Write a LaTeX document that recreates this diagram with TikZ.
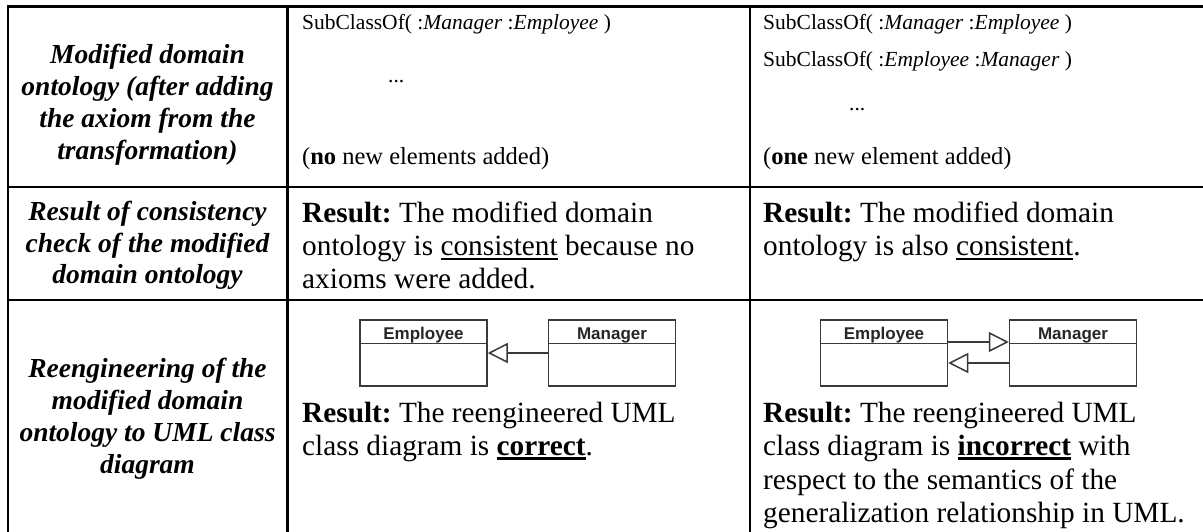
\documentclass[tikz,border=0pt]{standalone}
\usepackage{fontspec}
\setmainfont{Liberation Serif}
\newfontfamily\umlfont{Liberation Sans}
\usetikzlibrary{arrows.meta,calc}
\frenchspacing

\definecolor{umlline}{HTML}{3A3A3A}
\definecolor{umltext}{HTML}{262626}

% underline with a rule of given thickness a fixed distance below the baseline
\newcommand\uln[2][2]{\setbox0=\hbox{#2}\rlap{\rule[-4.5pt]{\wd0}{#1pt}}\box0\relax}

\begin{document}
\begin{tikzpicture}[x=1pt,y=-1pt,
  grid/.style={line width=2.6pt, line cap=rect},
  head/.style={anchor=base, inner sep=0, font=\fontsize{27.5}{32}\selectfont\bfseries\itshape},
  body/.style={anchor=base west, inner sep=0, font=\fontsize{29.3}{34}\selectfont},
  axiom/.style={anchor=base west, inner sep=0, font=\fontsize{21.5}{26}\selectfont},
  note/.style={anchor=base west, inner sep=0, font=\fontsize{24.5}{29}\selectfont},
  umlbox/.style={draw=umlline, line width=1.5pt, minimum width=127pt, minimum height=66pt, inner sep=0},
  umlname/.style={anchor=base, inner sep=0, text=umltext, font=\fontsize{17}{20}\selectfont\umlfont\bfseries},
  gen/.style={draw=umlline, line width=1.5pt, -{Triangle[open,length=20pt,width=20pt]}}]

\useasboundingbox (0,0) rectangle (1203,531);

% table rules (the table runs on past the right and bottom edges)
\draw[grid] (8,6.5) -- (1203,6.5);
\draw[grid] (8,187) -- (1203,187);
\draw[grid] (8,300) -- (1203,300);
\draw[grid] (8,6.5) -- (8,531);
\draw[grid] (287.5,6.5) -- (287.5,531);
\draw[grid] (750,6.5) -- (750,531);

% ---- row 1: modified domain ontology
\node[head] (h1a) at (147.5,63)  {Modified domain};
\node[head] (h1b) at (147.5,95)  {ontology (after adding};
\node[head] (h1c) at (147.5,127) {the axiom from the};
\node[head] (h1d) at (147.5,159) {transformation)};

\node[axiom] (a1)  at (302,29)  {SubClassOf( :\textit{Manager} :\textit{Employee} )};
\node[axiom] (d1)  at (388,82)  {...};
\node[note]  (n1)  at (302,164) {(\textbf{no} new elements added)};

\node[axiom] (a2)  at (763,29)  {SubClassOf( :\textit{Manager} :\textit{Employee} )};
\node[axiom] (a3)  at (763,66)  {SubClassOf( :\textit{Employee} :\textit{Manager} )};
\node[axiom] (d2)  at (849,110) {...};
\node[note]  (n2)  at (763,164) {(\textbf{one} new element added)};

% ---- row 2: consistency check
\node[head] (h2a) at (147.5,220) {Result of consistency};
\node[head] (h2b) at (147.5,252) {check of the modified};
\node[head] (h2c) at (147.5,283) {domain ontology};

\node[body] (r2a) at (302,222) {\textbf{Result:} The modified domain};
\node[body] (r2b) at (302,255) {ontology is \uln{consistent} because no};
\node[body] (r2c) at (302,288) {axioms were added.};

\node[body] (r3a) at (763,222) {\textbf{Result:} The modified domain};
\node[body] (r3b) at (763,255) {ontology is also \uln{consistent}.};

% ---- row 3: reengineering to UML
\node[head] (h3a) at (147.5,377) {Reengineering of the};
\node[head] (h3b) at (147.5,409) {modified domain};
\node[head] (h3c) at (147.5,441) {ontology to UML class};
\node[head] (h3d) at (147.5,473) {diagram};

% class diagram: Manager specialises Employee
\node[umlbox] (emp1) at (423.5,353) {};
\node[umlbox] (man1) at (612,353) {};
\draw[umlline, line width=1.5pt] ($(emp1.north west)+(0,24)$) -- ($(emp1.north east)+(0,24)$);
\draw[umlline, line width=1.5pt] ($(man1.north west)+(0,24)$) -- ($(man1.north east)+(0,24)$);
\node[umlname] (emp1n) at (423.5,339) {Employee};
\node[umlname] (man1n) at (612,339) {Manager};
\draw[gen] (man1.west) -- (emp1.east);

\node[body] (r4a) at (302,422) {\textbf{Result:} The reengineered UML};
\node[body] (r4b) at (302,455) {class diagram is \uln[2.6]{\textbf{correct}}.};

% class diagram: each class specialises the other
\node[umlbox] (emp2) at (884,353) {};
\node[umlbox] (man2) at (1073,353) {};
\draw[umlline, line width=1.5pt] ($(emp2.north west)+(0,24)$) -- ($(emp2.north east)+(0,24)$);
\draw[umlline, line width=1.5pt] ($(man2.north west)+(0,24)$) -- ($(man2.north east)+(0,24)$);
\node[umlname] (emp2n) at (884,339) {Employee};
\node[umlname] (man2n) at (1073,339) {Manager};
\draw[gen] ($(emp2.east)+(0,-11)$) -- ($(man2.west)+(0,-11)$);
\draw[gen] ($(man2.west)+(0,10)$) -- ($(emp2.east)+(0,10)$);

\node[body] (r5a) at (763,422) {\textbf{Result:} The reengineered UML};
\node[body] (r5b) at (763,455) {class diagram is \uln[2.6]{\textbf{incorrect}} with};
\node[body] (r5c) at (763,489) {respect to the semantics of the};
\node[body] (r5d) at (763,522) {generalization relationship in UML.};

\end{tikzpicture}
\end{document}
